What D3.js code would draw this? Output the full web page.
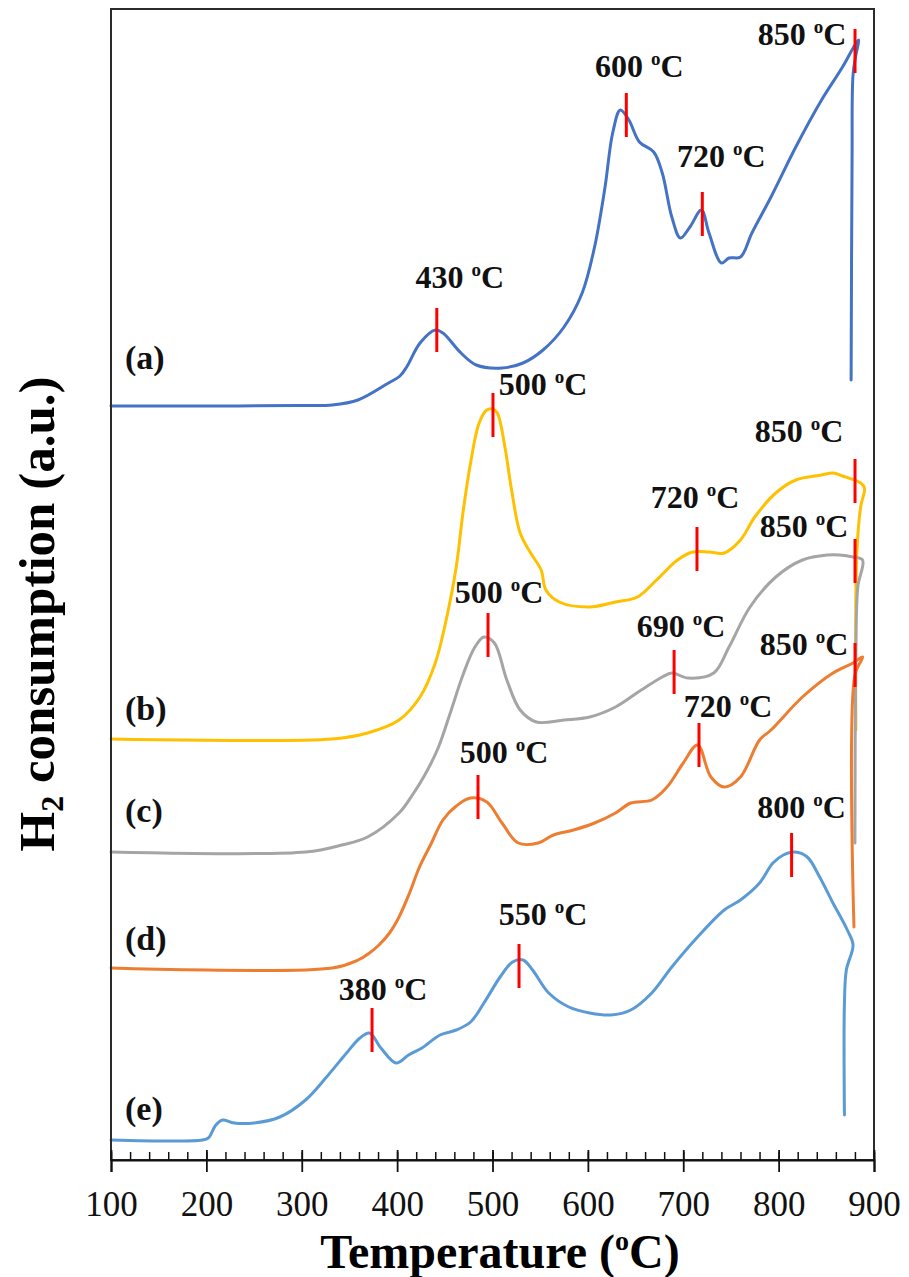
<!DOCTYPE html>
<html>
<head>
<meta charset="utf-8">
<title>H2-TPR profiles</title>
<script src="https://cdn.jsdelivr.net/npm/d3@7/dist/d3.min.js"></script>
<style>
  html, body { margin: 0; padding: 0; background: #fff; }
  svg { display: block; font-family: "Liberation Serif", "Times New Roman", serif; }
</style>
</head>
<body>
<svg id="chart" width="909" height="1277"></svg>
<script>
// H2-TPR profiles, stacked curves (a)–(e): [temperature °C, H2 consumption a.u.]
const seriesA = [
  [100, 75.4], [193, 75.4], [298, 75.45], [332, 75.5], [359, 76.0], [391, 77.7],
  [403, 78.4], [410, 79.3], [424, 81.7], [440, 83.0], [448, 82.7], [467, 80.7],
  [483, 79.5], [510, 79.2], [532, 79.7], [553, 81.0], [575, 83.3], [594, 86.7],
  [607, 91.3], [618, 97.3], [626, 102.7], [634, 105.0], [643, 104.0], [654, 101.8],
  [669, 100.8], [678, 98.7], [688, 94.3], [697, 92.2], [707, 93.3], [719, 95.0],
  [727, 92.7], [740, 89.7], [748, 90.2], [760, 90.3], [772, 92.7], [792, 96.3],
  [818, 101.3], [845, 106.0], [867, 109.3], [880, 111.5], [884, 112.0],
  [881, 110.5], [878, 108.5], [877, 100.0], [876, 78.0]
];
const seriesB = [
  [100, 42.1], [332, 42.1], [369, 42.7], [402, 44.0], [424, 46.3], [440, 49.7],
  [453, 54.7], [462, 59.3], [469, 64.7], [477, 69.7], [486, 73.7], [494, 75.0],
  [500, 75.1], [505, 74.7], [513, 71.3], [520, 67.0], [529, 62.7], [540, 60.7],
  [551, 59.0], [556, 57.0], [570, 55.8], [602, 55.3], [629, 55.8], [652, 56.3],
  [672, 58.0], [694, 60.0], [710, 60.8], [727, 60.8], [743, 60.7], [760, 62.0],
  [775, 64.3], [797, 66.7], [818, 68.0], [845, 68.5], [857, 68.7], [867, 68.4],
  [886, 67.7], [890, 67.2], [886, 65.3], [882, 60.7], [881, 43.0]
];
const seriesC = [
  [100, 30.8], [304, 30.8], [342, 31.5], [369, 32.3], [402, 34.7], [416, 36.5],
  [429, 38.5], [443, 41.2], [455, 44.5], [469, 48.5], [481, 51.2], [491, 52.3],
  [502, 51.7], [515, 48.0], [529, 45.0], [546, 43.8], [575, 44.0], [602, 44.3],
  [629, 45.3], [656, 47.0], [678, 48.3], [688, 48.7], [705, 48.2], [732, 48.7],
  [748, 51.3], [770, 55.3], [797, 58.3], [825, 60.0], [851, 60.5], [864, 60.5],
  [878, 60.3], [888, 60.0], [883, 57.3], [881, 51.0], [880, 31.7]
];
const seriesD = [
  [100, 19.2], [332, 19.2], [359, 20.0], [371, 20.7], [381, 21.5], [392, 22.7],
  [402, 24.3], [413, 26.7], [423, 29.2], [436, 31.7], [448, 34.0], [462, 35.4],
  [477, 36.2], [494, 35.8], [510, 33.7], [527, 31.7], [548, 31.7], [564, 32.5],
  [585, 33.0], [607, 33.7], [629, 34.7], [645, 35.7], [667, 36.0], [683, 37.3],
  [700, 39.7], [715, 41.5], [729, 38.3], [743, 37.3], [760, 38.3], [780, 42.0],
  [792, 43.0], [825, 46.3], [857, 48.7], [878, 49.7], [888, 50.3], [880, 48.5],
  [879, 23.3]
];
const seriesE = [
  [100, 2.0], [196, 2.0], [202, 2.2], [210, 3.5], [217, 4.0], [229, 3.7],
  [250, 3.7], [277, 4.3], [304, 6.0], [326, 8.3], [347, 10.7], [361, 12.2],
  [371, 12.7], [383, 11.2], [399, 9.7], [412, 10.5], [426, 11.2], [445, 12.5],
  [462, 13.0], [477, 13.8], [491, 15.7], [508, 18.3], [521, 19.8], [532, 20.0],
  [542, 19.0], [559, 16.7], [580, 15.3], [602, 14.7], [624, 14.5], [645, 15.0],
  [667, 16.7], [688, 19.3], [715, 22.3], [743, 25.0], [760, 26.0], [780, 27.7],
  [794, 29.7], [805, 30.5], [817, 30.8], [830, 30.3], [843, 28.3], [857, 25.7],
  [872, 23.0], [878, 21.5], [871, 19.0], [869, 15.7], [869, 4.5]
];

const seriesNames = ["(a)", "(b)", "(c)", "(d)", "(e)"];
const seriesColors = ["#4472C4", "#FFC000", "#A5A5A5", "#ED7D31", "#5B9BD5"];
const seriesData = [seriesA, seriesB, seriesC, seriesD, seriesE];
// baseline level of each curve (a.u.), used to place its letter
const seriesBaselines = [75.4, 42.1, 30.8, 19.2, 2.0];

// peak markers: [series index, marker temperature, signal level, label text]
const peakMarks = [
  [0, 441.6, 83.0, "430"], [0, 640.3, 104.5, "600"], [0, 720.0, 94.6, "720"], [0, 880.1, 110.9, "850"],
  [1, 500.5, 74.5, "500"], [1, 714.4, 61.1, "720"], [1, 880.1, 67.9, "850"],
  [2, 495.3, 52.5, "500"], [2, 690.4, 48.8, "690"], [2, 880.1, 59.9, "850"],
  [3, 484.8, 36.3, "500"], [3, 716.5, 41.5, "720"], [3, 880.1, 49.5, "850"],
  [4, 373.7, 13.0, "380"], [4, 527.8, 19.4, "550"], [4, 813.6, 30.5, "800"]
];
// label placement relative to its marker, in pixels
const labelShift = [
  [23, -42], [13, -38], [19, -47], [-53, -6],
  [50, -20], [-2, -41], [-56, -39],
  [11, -32], [7, -35], [-51, -24],
  [26, -34], [29, -28], [-51, -10],
  [11, -30], [24, -41], [10, -37]
];

const xTicks = [100, 200, 300, 400, 500, 600, 700, 800, 900];
const xMinorStep = 20;

const svg = d3.select("#chart");
const plotLeft = 111, plotRight = 874, plotTop = 9, plotBottom = 1160;

const x = d3.scaleLinear().domain([100, 900]).range([plotLeft, plotRight]);
const y = d3.scaleLinear().domain([0, 115.1]).range([plotBottom, plotTop]);

// curves
const line = d3.line()
  .x(d => x(d[0]))
  .y(d => y(d[1]))
  .curve(d3.curveCatmullRom.alpha(0.5));

svg.append("g").selectAll("path")
  .data(seriesData)
  .join("path")
  .attr("d", line)
  .attr("fill", "none")
  .attr("stroke", (d, i) => seriesColors[i])
  .attr("stroke-width", 3)
  .attr("stroke-linejoin", "round")
  .attr("stroke-linecap", "round");

// red peak markers
svg.append("g").selectAll("line")
  .data(peakMarks)
  .join("line")
  .attr("x1", d => x(d[1]))
  .attr("x2", d => x(d[1]))
  .attr("y1", d => y(d[2]) - 22)
  .attr("y2", d => y(d[2]) + 22)
  .attr("stroke", "#FF0000")
  .attr("stroke-width", 3);

// peak labels with superscript degree sign
const lbl = svg.append("g").selectAll("text")
  .data(peakMarks)
  .join("text")
  .attr("x", (d, i) => x(d[1]) + labelShift[i][0])
  .attr("y", (d, i) => y(d[2]) + labelShift[i][1])
  .attr("text-anchor", "middle")
  .attr("font-size", 32)
  .attr("font-weight", "bold")
  .attr("fill", "#111");
lbl.append("tspan").text(d => d[3] + " ");
lbl.append("tspan").text("o").attr("font-size", 19).attr("dy", -12);
lbl.append("tspan").text("C").attr("dy", 12);

// curve letters
svg.append("g").selectAll("text")
  .data(seriesNames)
  .join("text")
  .attr("x", 125)
  .attr("y", (d, i) => y(seriesBaselines[i]) - [37, 19, 30, 18, 20][i])
  .attr("font-size", 34)
  .attr("font-weight", "bold")
  .attr("fill", "#111")
  .text(d => d);

// plot frame
svg.append("rect")
  .attr("x", plotLeft).attr("y", plotTop)
  .attr("width", plotRight - plotLeft).attr("height", plotBottom - plotTop)
  .attr("fill", "none")
  .attr("stroke", "#2b2b2b")
  .attr("stroke-width", 2);

// minor ticks (inside, upward)
const minor = svg.append("g")
  .attr("transform", `translate(0,${plotBottom})`)
  .call(d3.axisBottom(x)
    .tickValues(d3.range(100, 901, xMinorStep))
    .tickSize(-8)
    .tickFormat(""));
minor.select(".domain").remove();
minor.selectAll(".tick line").attr("stroke", "#111").attr("stroke-width", 1.5);

// major ticks crossing the axis, with labels
const major = svg.append("g")
  .attr("transform", `translate(0,${plotBottom})`)
  .call(d3.axisBottom(x)
    .tickValues(xTicks)
    .tickSize(12)
    .tickFormat(d3.format("d")));
major.select(".domain").attr("stroke", "#111").attr("stroke-width", 2);
major.selectAll(".tick line").attr("y1", -10).attr("y2", 12)
  .attr("stroke", "#111").attr("stroke-width", 1.8);
major.selectAll(".tick text")
  .attr("y", 56).attr("dy", null)
  .attr("font-family", "\"Liberation Serif\", \"Times New Roman\", serif")
  .attr("font-size", 35)
  .attr("fill", "#111");

// axis titles
const xt = svg.append("text")
  .attr("x", 500).attr("y", 1268)
  .attr("text-anchor", "middle")
  .attr("font-size", 48)
  .attr("font-weight", "bold")
  .attr("fill", "#000");
xt.append("tspan").text("Temperature (");
xt.append("tspan").text("o").attr("font-size", 28).attr("dy", -18);
xt.append("tspan").text("C)").attr("dy", 18);

const yt = svg.append("text")
  .attr("transform", "translate(54,614) rotate(-90)")
  .attr("text-anchor", "middle")
  .attr("font-size", 51)
  .attr("font-weight", "bold")
  .attr("fill", "#000");
yt.append("tspan").text("H");
yt.append("tspan").text("2").attr("font-size", 32).attr("dy", 9);
yt.append("tspan").text(" consumption (a.u.)").attr("dy", -9);
</script>
</body>
</html>
